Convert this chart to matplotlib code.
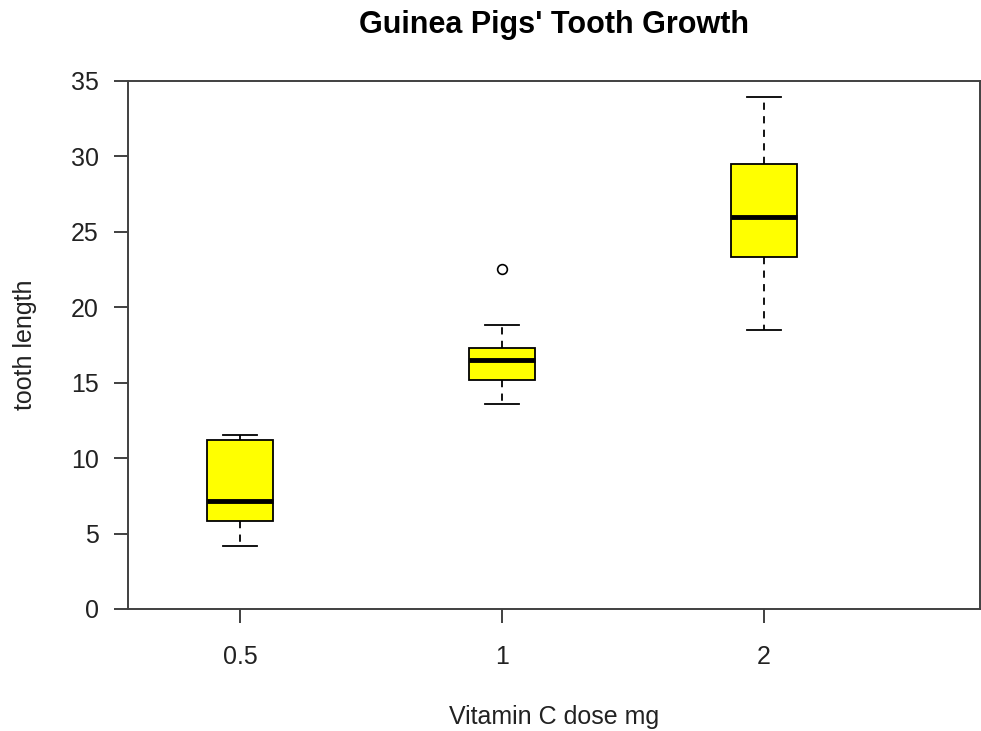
import matplotlib
matplotlib.use('Agg')
import matplotlib.pyplot as plt

plt.rcParams['font.family'] = ['Liberation Sans', 'DejaVu Sans']

# values (vitamin C group)
doses = ['0.5', '1', '2']
lows = [4.2, 13.6, 18.5]
q1s = [5.8, 15.2, 23.3]
medians = [7.15, 16.5, 25.95]
q3s = [11.2, 17.3, 29.5]
highs = [11.5, 18.8, 33.9]
outliers = [[], [22.5], []]
yticks = [0, 5, 10, 15, 20, 25, 30, 35]

stats = []
for i in range(len(doses)):
    stats.append({'whislo': lows[i], 'q1': q1s[i], 'med': medians[i],
                  'q3': q3s[i], 'whishi': highs[i], 'fliers': outliers[i],
                  'label': doses[i]})

W, H = 981, 731
fig = plt.figure(figsize=(W/100, H/100), dpi=100)
ax = fig.add_axes([128/W, (H-609)/H, (980-128)/W, (609-80.7)/H])

ax.bxp(stats, positions=[1, 2, 3], widths=0.25, patch_artist=True,
       boxprops=dict(facecolor='#ffff00', edgecolor='black', linewidth=1.3),
       medianprops=dict(color='black', linewidth=3.5, solid_capstyle='butt'),
       whiskerprops=dict(color='black', linewidth=1.3, linestyle=(0, (4, 3.5))),
       capprops=dict(color='black', linewidth=1.3),
       capwidths=0.13,
       flierprops=dict(marker='o', markerfacecolor='none', markeredgecolor='black',
                       markersize=7, markeredgewidth=1.2))

ax.set_xlim(0.5725, 3.824)
ax.set_ylim(0, 35)
ax.set_yticks(yticks)
ax.set_xticks([1, 2, 3])
ax.set_xticklabels(doses)

for s in ax.spines.values():
    s.set_color('#404040')
    s.set_linewidth(1.4)
ax.tick_params(axis='both', colors='#404040', labelcolor='#222222', length=10,
               width=1.4, labelsize=18)
ax.tick_params(axis='x', pad=16)
ax.tick_params(axis='y', pad=11)

ax.set_title("Guinea Pigs' Tooth Growth", fontsize=22, fontweight='bold', pad=34)
ax.set_xlabel('Vitamin C dose mg', fontsize=18, labelpad=26, color='#222222')
ax.set_ylabel('tooth length', fontsize=18, labelpad=24, color='#222222')

fig.savefig('out.png', dpi=100)
